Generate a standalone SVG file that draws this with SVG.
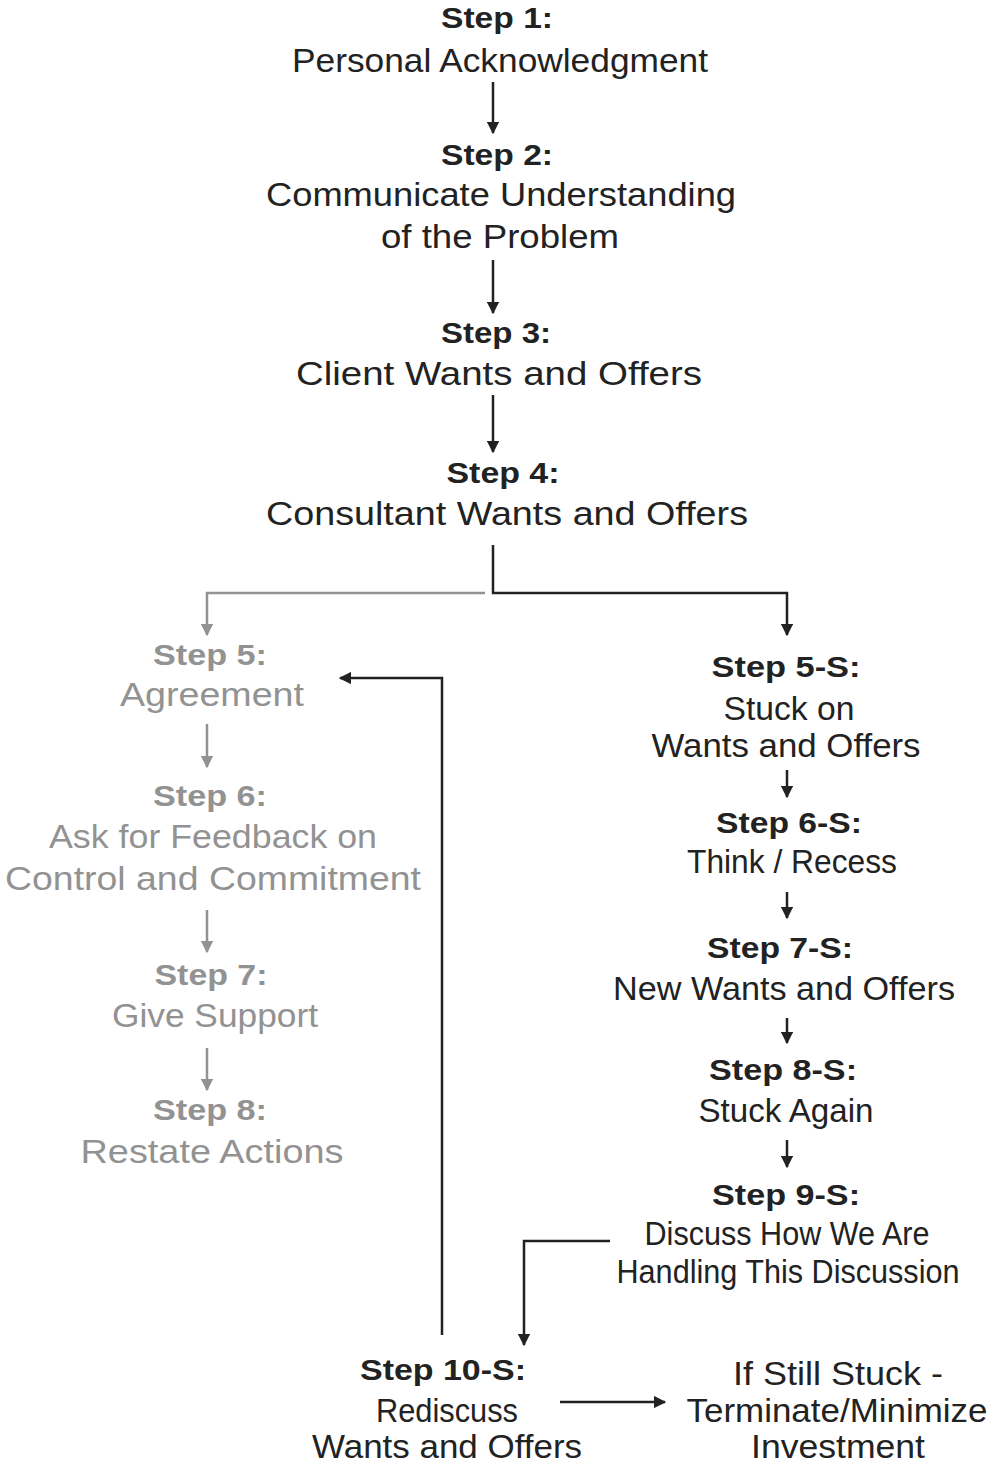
<svg xmlns="http://www.w3.org/2000/svg" width="1000" height="1474" viewBox="0 0 1000 1474">
<style>
text{font-family:"Liberation Sans","DejaVu Sans",sans-serif;text-anchor:middle}
.h{font-size:29px;font-weight:bold}
.t{font-size:34px}
.dk{fill:#222}
.gr{fill:#929292}
.ld{stroke:#222;stroke-width:2.5;fill:none}
.lg{stroke:#929292;stroke-width:2.5;fill:none}
</style>
<defs>
<marker id="ad" viewBox="0 0 10 10" refX="9" refY="5" markerWidth="5" markerHeight="5" orient="auto" markerUnits="strokeWidth"><path d="M0,0L10,5L0,10z" fill="#222"/></marker>
<marker id="ag" viewBox="0 0 10 10" refX="9" refY="5" markerWidth="5" markerHeight="5" orient="auto" markerUnits="strokeWidth"><path d="M0,0L10,5L0,10z" fill="#929292"/></marker>
</defs>
<g id="connectors">
<path class="ld" d="M493,82V133" marker-end="url(#ad)"/>
<path class="ld" d="M493,260V313" marker-end="url(#ad)"/>
<path class="ld" d="M493,395V452" marker-end="url(#ad)"/>
<path class="ld" d="M493,545V593H787V635" marker-end="url(#ad)"/>
<path class="lg" d="M485,593H207V635" marker-end="url(#ag)"/>
<path class="lg" d="M207,724V767" marker-end="url(#ag)"/>
<path class="lg" d="M207,910V952" marker-end="url(#ag)"/>
<path class="lg" d="M207,1048V1090" marker-end="url(#ag)"/>
<path class="ld" d="M787,770V797" marker-end="url(#ad)"/>
<path class="ld" d="M787,892V918" marker-end="url(#ad)"/>
<path class="ld" d="M787,1018V1043" marker-end="url(#ad)"/>
<path class="ld" d="M787,1140V1167" marker-end="url(#ad)"/>
<path class="ld" d="M610,1241H524V1345" marker-end="url(#ad)"/>
<path class="ld" d="M442,1335V678H340" marker-end="url(#ad)"/>
<path class="ld" d="M560,1402H665" marker-end="url(#ad)"/>
</g>
<g id="step1" class="dk"><text class="h" x="497" y="28" textLength="112" lengthAdjust="spacingAndGlyphs">Step 1:</text><text class="t" x="500" y="72" textLength="416" lengthAdjust="spacingAndGlyphs">Personal Acknowledgment</text></g>
<g id="step2" class="dk"><text class="h" x="497" y="165" textLength="112" lengthAdjust="spacingAndGlyphs">Step 2:</text><text class="t" x="501" y="206" textLength="470" lengthAdjust="spacingAndGlyphs">Communicate Understanding</text><text class="t" x="500" y="248" textLength="238" lengthAdjust="spacingAndGlyphs">of the Problem</text></g>
<g id="step3" class="dk"><text class="h" x="496" y="343" textLength="110" lengthAdjust="spacingAndGlyphs">Step 3:</text><text class="t" x="499" y="385" textLength="406" lengthAdjust="spacingAndGlyphs">Client Wants and Offers</text></g>
<g id="step4" class="dk"><text class="h" x="503" y="483" textLength="113" lengthAdjust="spacingAndGlyphs">Step 4:</text><text class="t" x="507" y="525" textLength="482" lengthAdjust="spacingAndGlyphs">Consultant Wants and Offers</text></g>
<g id="step5" class="gr"><text class="h" x="210" y="665" textLength="114" lengthAdjust="spacingAndGlyphs">Step 5:</text><text class="t" x="212" y="706" textLength="184" lengthAdjust="spacingAndGlyphs">Agreement</text></g>
<g id="step6" class="gr"><text class="h" x="210" y="806" textLength="114" lengthAdjust="spacingAndGlyphs">Step 6:</text><text class="t" x="213" y="848" textLength="328" lengthAdjust="spacingAndGlyphs">Ask for Feedback on</text><text class="t" x="213" y="890" textLength="416" lengthAdjust="spacingAndGlyphs">Control and Commitment</text></g>
<g id="step7" class="gr"><text class="h" x="211" y="985" textLength="113" lengthAdjust="spacingAndGlyphs">Step 7:</text><text class="t" x="215" y="1027" textLength="206" lengthAdjust="spacingAndGlyphs">Give Support</text></g>
<g id="step8" class="gr"><text class="h" x="210" y="1120" textLength="114" lengthAdjust="spacingAndGlyphs">Step 8:</text><text class="t" x="212" y="1163" textLength="263" lengthAdjust="spacingAndGlyphs">Restate Actions</text></g>
<g id="step5s" class="dk"><text class="h" x="786" y="677" textLength="149" lengthAdjust="spacingAndGlyphs">Step 5-S:</text><text class="t" x="789" y="720" textLength="131" lengthAdjust="spacingAndGlyphs">Stuck on</text><text class="t" x="786" y="757" textLength="269" lengthAdjust="spacingAndGlyphs">Wants and Offers</text></g>
<g id="step6s" class="dk"><text class="h" x="789" y="833" textLength="146" lengthAdjust="spacingAndGlyphs">Step 6-S:</text><text class="t" x="792" y="873" textLength="210" lengthAdjust="spacingAndGlyphs">Think / Recess</text></g>
<g id="step7s" class="dk"><text class="h" x="780" y="958" textLength="146" lengthAdjust="spacingAndGlyphs">Step 7-S:</text><text class="t" x="784" y="1000" textLength="342" lengthAdjust="spacingAndGlyphs">New Wants and Offers</text></g>
<g id="step8s" class="dk"><text class="h" x="783" y="1080" textLength="148" lengthAdjust="spacingAndGlyphs">Step 8-S:</text><text class="t" x="786" y="1122" textLength="175" lengthAdjust="spacingAndGlyphs">Stuck Again</text></g>
<g id="step9s" class="dk"><text class="h" x="786" y="1205" textLength="148" lengthAdjust="spacingAndGlyphs">Step 9-S:</text><text class="t" x="787" y="1245" textLength="285" lengthAdjust="spacingAndGlyphs">Discuss How We Are</text><text class="t" x="788" y="1283" textLength="343" lengthAdjust="spacingAndGlyphs">Handling This Discussion</text></g>
<g id="step10s" class="dk"><text class="h" x="443" y="1380" textLength="166" lengthAdjust="spacingAndGlyphs">Step 10-S:</text><text class="t" x="447" y="1422" textLength="142" lengthAdjust="spacingAndGlyphs">Rediscuss</text><text class="t" x="447" y="1458" textLength="270" lengthAdjust="spacingAndGlyphs">Wants and Offers</text></g>
<g id="terminate" class="dk"><text class="t" x="838" y="1385" textLength="210" lengthAdjust="spacingAndGlyphs">If Still Stuck -</text><text class="t" x="837" y="1422" textLength="301" lengthAdjust="spacingAndGlyphs">Terminate/Minimize</text><text class="t" x="838" y="1458" textLength="174" lengthAdjust="spacingAndGlyphs">Investment</text></g>
</svg>
